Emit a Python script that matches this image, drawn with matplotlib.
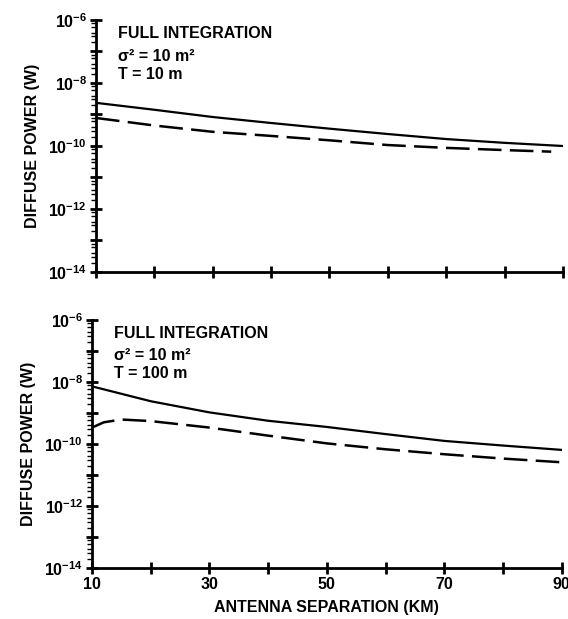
import numpy as np
import matplotlib
matplotlib.use("Agg")
import matplotlib.pyplot as plt
from matplotlib.ticker import FixedLocator, LogLocator, NullFormatter, FixedFormatter

plt.rcParams['font.family'] = ['Liberation Sans', 'DejaVu Sans']
plt.rcParams['font.weight'] = 'bold'
plt.rcParams['mathtext.fontset'] = 'custom'
plt.rcParams['mathtext.rm'] = 'Liberation Sans:bold'
plt.rcParams['mathtext.bf'] = 'Liberation Sans:bold'
plt.rcParams['mathtext.it'] = 'Liberation Sans:bold:italic'
plt.rcParams['lines.scale_dashes'] = False

# antenna separation (km) and log10 of diffuse power (W)
x_top_solid = [10, 20, 30, 40, 50, 60, 70, 80, 90]
p_top_solid = [-8.63, -8.85, -9.08, -9.27, -9.45, -9.62, -9.78, -9.90, -10.0]
x_top_dash = [10, 20, 30, 40, 50, 60, 70, 80, 88]
p_top_dash = [-9.11, -9.35, -9.55, -9.68, -9.82, -9.97, -10.06, -10.13, -10.18]

x_bot_solid = [10, 20, 30, 40, 50, 60, 70, 80, 90]
p_bot_solid = [-8.14, -8.62, -8.98, -9.25, -9.45, -9.68, -9.90, -10.05, -10.19]
x_bot_dash = [10, 12, 15, 20, 30, 40, 50, 60, 70, 80, 90]
p_bot_dash = [-9.47, -9.30, -9.21, -9.26, -9.47, -9.73, -9.98, -10.17, -10.33, -10.47, -10.59]

panel_notes = ["T = 10 m", "T = 100 m"]
ytick_vals = [1e-14, 1e-13, 1e-12, 1e-11, 1e-10, 1e-9, 1e-8, 1e-7, 1e-6]
ytick_labels = [r'$10^{-14}$', '', r'$10^{-12}$', '', r'$10^{-10}$', '', r'$10^{-8}$', '', r'$10^{-6}$']
xtick_major = [10, 30, 50, 70, 90]
xtick_minor = [20, 40, 60, 80]

fig = plt.figure(figsize=(5.68, 6.19), dpi=100)
ax1 = fig.add_axes([0.169, 0.5606, 0.822, 0.4071])
ax2 = fig.add_axes([0.162, 0.0824, 0.827, 0.4006])

data = [(x_top_solid, p_top_solid, x_top_dash, p_top_dash),
        (x_bot_solid, p_bot_solid, x_bot_dash, p_bot_dash)]

for i, ax in enumerate([ax1, ax2]):
    xs, ps, xd, pd = data[i]
    ax.plot(xs, 10 ** np.array(ps), color='black', lw=1.6)
    ax.plot(xd, 10 ** np.array(pd), color='black', lw=1.8, dashes=(17, 6))
    ax.set_yscale('log')
    ax.set_ylim(1e-14, 1e-6)
    ax.set_xlim(10, 90)
    for s in ['top', 'right']:
        ax.spines[s].set_visible(False)
    for s in ['left', 'bottom']:
        ax.spines[s].set_linewidth(2)
    ax.yaxis.set_major_locator(FixedLocator(ytick_vals))
    ax.yaxis.set_major_formatter(FixedFormatter(ytick_labels))
    ax.yaxis.set_minor_locator(LogLocator(base=10, subs=[2, 3, 4, 6, 8], numticks=20))
    ax.yaxis.set_minor_formatter(NullFormatter())
    ax.xaxis.set_major_locator(FixedLocator(xtick_major))
    ax.xaxis.set_minor_locator(FixedLocator(xtick_minor))
    ax.tick_params(axis='both', which='major', direction='inout', length=9, width=2,
                   labelsize=11.5, pad=2)
    ax.tick_params(axis='x', which='minor', direction='inout', length=9, width=2)
    ax.tick_params(axis='y', which='minor', direction='out', length=3.5, width=1.0)
    ax.set_ylabel('DIFFUSE POWER (W)', fontsize=11.5, fontweight='bold', labelpad=6)
    ax.text(0.047, 0.945, 'FULL INTEGRATION', transform=ax.transAxes, fontsize=11.5,
            fontweight='bold', va='center')
    ax.text(0.047, 0.855, 'σ² = 10 m²', transform=ax.transAxes, fontsize=11.5,
            fontweight='bold', va='center')
    ax.text(0.047, 0.785, panel_notes[i], transform=ax.transAxes, fontsize=11.5,
            fontweight='bold', va='center')

ax1.tick_params(axis='x', labelbottom=False)
ax2.set_xlabel('ANTENNA SEPARATION (KM)', fontsize=11.5, fontweight='bold', labelpad=6)

fig.savefig('out.png', dpi=100)
